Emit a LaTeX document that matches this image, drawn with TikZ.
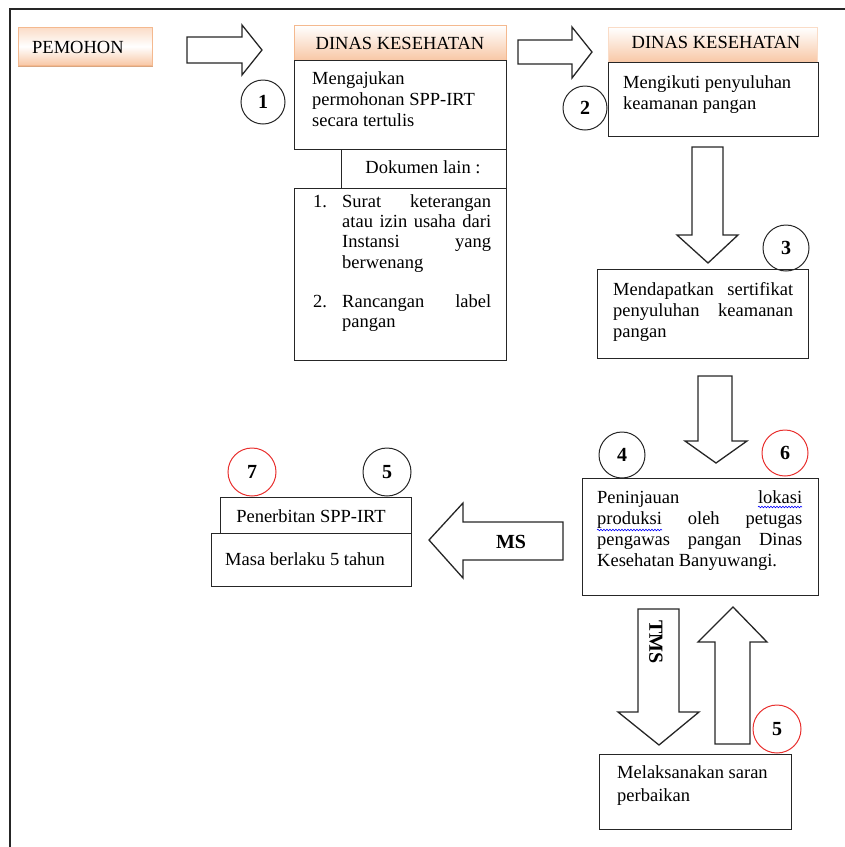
\documentclass[tikz,border=0pt]{standalone}
\usepackage{fontspec}
\setmainfont{Liberation Serif}
\usetikzlibrary{decorations.pathmorphing}
\newcommand{\fs}{\fontsize{18.5}{21}\selectfont}
\newcommand{\fsl}{\fontsize{18.5}{20.4}\selectfont}
\newcommand{\fsw}{\fontsize{18.5}{23}\selectfont}
\newcommand{\fsn}{\fontsize{20}{24}\selectfont}
\newcommand{\JL}[2]{\makebox[#1][s]{#2}}
\definecolor{peachA}{HTML}{FBDCC7}
\definecolor{peachB}{HTML}{F8C7A5}
\definecolor{peachEdge}{HTML}{F4B98F}
\definecolor{shadowc}{HTML}{D9A681}
\definecolor{redc}{HTML}{E8302E}
\definecolor{lineg}{HTML}{262626}
\begin{document}
\begin{tikzpicture}[x=1pt,y=-1pt,
  box/.style={draw=lineg, line width=1.2pt, fill=white, inner sep=0pt, anchor=north west},
  hdr/.style={draw=peachEdge, line width=0.8pt, inner sep=0pt, anchor=north west, top color=white, bottom color=peachB},
  txt/.style={anchor=north west, inner sep=0pt, align=left, font=\fs},
  lbl/.style={inner sep=0pt, font=\fs},
  num/.style={circle, draw=lineg, line width=1pt, minimum size=46pt, inner sep=0pt, font=\fsn\bfseries},
  rnum/.style={num, draw=redc},
  blk/.style={draw=lineg, line width=1.3pt, fill=white, line join=miter},
  wavy/.style={draw=blue, line width=0.6pt, decorate, decoration={snake, amplitude=0.8pt, segment length=3pt}},
]
\useasboundingbox (0,0) rectangle (845,847);
% outer frame
\draw[line width=1.6pt, lineg] (845,9) -- (10,9) -- (10,847);

% PEMOHON
\node[hdr, minimum width=134pt, minimum height=38pt, top color=peachA, bottom color=peachB, middle color=white] (pem) at (18,27) {};
\draw[shadowc, line width=1.5pt] ([yshift=-0.75pt]pem.south west) -- ([yshift=-0.75pt]pem.south east);
\node[lbl, anchor=base west] (pemt) at (32,53) {PEMOHON};

% headers
\node[hdr, minimum width=212pt, minimum height=35pt] (h1) at (294,25) {};
\node[lbl, anchor=base] (h1t) at (400,49) {DINAS KESEHATAN};
\node[hdr, draw=peachEdge!50, minimum width=209pt, minimum height=35pt] (h2) at (608,27) {};
\node[lbl, anchor=base] (h2t) at (716,48) {DINAS KESEHATAN};

% boxes column 1
\node[box, minimum width=212pt, minimum height=89pt] (b1) at (294,60) {};
\node[txt] (b1t) at (312,71) {Mengajukan\\permohonan SPP-IRT\\secara tertulis};
\node[box, minimum width=165pt, minimum height=39pt] (dok) at (341,149) {};
\node[lbl, anchor=base] (dokt) at (423,173) {Dokumen lain :};
\node[box, minimum width=212pt, minimum height=172pt] (lst) at (294,188) {};
\node[lbl, anchor=base west] (n1) at (313,207) {1.};
\node[txt, font=\fsl] (l1) at (342,194) {\JL{149pt}{Surat keterangan}\\\JL{149pt}{atau izin usaha dari}\\\JL{149pt}{Instansi yang}\\berwenang};
\node[lbl, anchor=base west] (n2) at (313,307) {2.};
\node[txt, font=\fsl] (l2) at (342,294) {\JL{149pt}{Rancangan label}\\pangan};

% boxes column 2
\node[box, minimum width=210pt, minimum height=74pt] (b2) at (608,62) {};
\node[txt] (b2t) at (623,75) {Mengikuti penyuluhan\\keamanan pangan};
\node[box, minimum width=211pt, minimum height=89pt] (b3) at (597,269) {};
\node[txt] (b3t) at (613,282) {\JL{180pt}{Mendapatkan sertifikat}\\\JL{180pt}{penyuluhan keamanan}\\pangan};
\node[box, minimum width=236pt, minimum height=117pt] (b4) at (582,478) {};
\node[txt] (b4t) at (597,490) {\JL{205pt}{Peninjauan lokasi}\\\JL{205pt}{produksi oleh petugas}\\\JL{205pt}{pengawas pangan Dinas}\\Kesehatan Banyuwangi.};
\draw[wavy] (758,507) -- (802,507);
\draw[wavy] (597,530) -- (662,530);
\node[box, minimum width=192pt, minimum height=75pt] (b5) at (599,754) {};
\node[txt, font=\fsw] (b5t) at (617,765) {Melaksanakan saran\\perbaikan};

% result boxes
\node[box, minimum width=191pt, minimum height=36pt] (b6) at (220,497) {};
\node[lbl, anchor=base] (b6t) at (311,522) {Penerbitan SPP-IRT};
\node[box, minimum width=200pt, minimum height=53pt] (b7) at (211,533) {};
\node[lbl, anchor=base west] (b7t) at (225,565) {Masa berlaku 5 tahun};

% block arrows
\draw[blk] (187,37) -- (242,37) -- (242,25) -- (262,50) -- (242,75) -- (242,63) -- (187,63) -- cycle;
\draw[blk] (518,40) -- (572,40) -- (572,27) -- (592,52) -- (572,78) -- (572,64) -- (518,64) -- cycle;
\draw[blk] (692,147) -- (723,147) -- (723,235) -- (738,235) -- (708,263) -- (677,235) -- (692,235) -- cycle;
\draw[blk] (698,376) -- (732,376) -- (732,441) -- (747,441) -- (716,463) -- (685,441) -- (698,441) -- cycle;
\draw[blk] (563,522) -- (463,522) -- (463,503) -- (429,540) -- (463,578) -- (463,560) -- (563,560) -- cycle;
\node[lbl, font=\fsn\bfseries, anchor=base] (ms) at (511,548) {MS};
\draw[blk] (638,609) -- (679,609) -- (679,712) -- (699,712) -- (659,745) -- (618,712) -- (638,712) -- cycle;
\node[lbl, font=\fsn\bfseries, rotate=-90] (tms) at (656,642) {TMS};
\draw[blk] (715,744) -- (750,744) -- (750,642) -- (767,642) -- (733,607) -- (698,642) -- (715,642) -- cycle;

% numbered circles
\node[num, minimum size=44pt] (c1) at (263,102) {1};
\node[num, minimum size=44pt] (c2) at (585,108) {2};
\node[num] (c3) at (786,248) {3};
\node[num] (c4) at (622,455) {4};
\node[rnum] (c6) at (785,453) {6};
\node[rnum, minimum size=48pt] (c7) at (252,472) {7};
\node[num, minimum size=48pt] (c5) at (387,472) {5};
\node[rnum, minimum size=48pt] (c5b) at (777,729) {5};
\end{tikzpicture}
\end{document}
